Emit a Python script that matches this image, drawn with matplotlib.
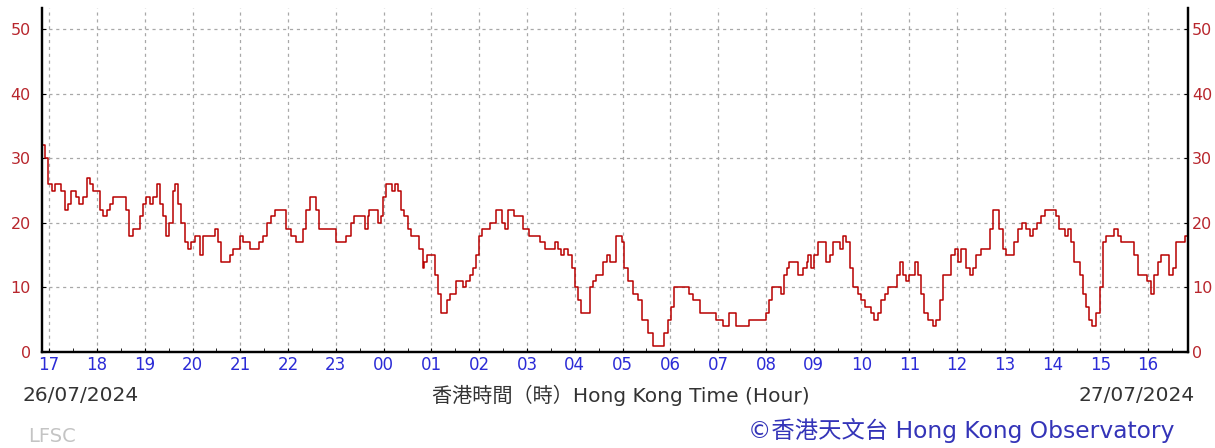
import matplotlib.pyplot as plt
from matplotlib.ticker import MultipleLocator

plt.rcParams['font.family'] = ['DejaVu Sans', 'Noto Sans CJK TC']

# minutes after 17:00 on 26/07/2024, and the reading at that time
minutes = [-9, -5, -1, 3, 7, 11, 15, 20, 24, 28, 34, 38, 43, 47, 51, 55, 59, 64, 68,
           72, 76, 80, 93, 97, 100, 105, 110, 114, 118, 122, 126, 130, 135, 139, 143,
           147, 151, 155, 158, 162, 166, 170, 174, 178, 183, 189, 193, 206, 208, 212,
           216, 222, 227, 231, 239, 243, 252, 264, 268, 273, 279, 283, 293, 298, 304,
           310, 319, 323, 327, 331, 335, 339, 356, 360, 369, 373, 379, 383, 392, 396,
           400, 402, 408, 413, 417, 419, 423, 431, 434, 438, 442, 446, 450, 454, 461,
           465, 469, 471, 474, 480, 484, 488, 492, 499, 503, 511, 520, 524, 528, 532,
           536, 540, 543, 553, 561, 568, 572, 576, 584, 595, 603, 616, 622, 635, 639,
           643, 647, 651, 656, 660, 664, 668, 679, 683, 687, 695, 700, 704, 712, 719,
           722, 727, 733, 739, 745, 752, 758, 772, 777, 781, 785, 804, 808, 817, 837,
           846, 854, 862, 879, 900, 904, 908, 919, 923, 927, 929, 940, 947, 951, 953,
           957, 961, 965, 976, 980, 984, 993, 997, 1001, 1005, 1009, 1016, 1020, 1024,
           1032, 1036, 1041, 1045, 1049, 1053, 1064, 1068, 1072, 1076, 1080, 1087,
           1091, 1095, 1099, 1103, 1110, 1114, 1118, 1122, 1133, 1137, 1141, 1145,
           1151, 1156, 1160, 1164, 1170, 1181, 1185, 1193, 1198, 1202, 1212, 1216,
           1222, 1227, 1231, 1235, 1241, 1245, 1250, 1264, 1268, 1275, 1279, 1283,
           1287, 1294, 1298, 1302, 1306, 1310, 1314, 1319, 1323, 1327, 1337, 1342,
           1346, 1362, 1367, 1379, 1383, 1387, 1392, 1396, 1406, 1411, 1415, 1426, 1430]
values = [32, 30, 26, 25, 26, 26, 25, 22, 23, 25, 24, 23, 24, 27, 26, 25, 25, 22, 21,
          22, 23, 24, 24, 22, 18, 19, 19, 21, 23, 24, 23, 24, 26, 23, 21,
          18, 20, 25, 26, 23, 20, 17, 16, 17, 18, 15, 18, 18, 19, 17,
          14, 14, 15, 16, 18, 17, 16, 17, 18, 20, 21, 22, 22, 19, 18,
          17, 19, 22, 24, 24, 22, 19, 19, 17, 17, 18, 20, 21, 21, 19,
          21, 22, 22, 20, 21, 24, 26, 25, 26, 25, 22, 21, 19, 18, 18,
          16, 13, 14, 15, 15, 12, 9, 6, 8, 9, 11, 10, 11, 12, 13,
          15, 18, 19, 20, 22, 20, 19, 22, 21, 19, 18, 17, 16, 17, 16,
          15, 16, 15, 13, 10, 8, 6, 10, 11, 12, 14, 15, 14, 18, 17,
          13, 11, 9, 8, 5, 3, 1, 3, 5, 7, 10, 9, 8, 6, 5,
          4, 6, 4, 5, 6, 8, 10, 9, 12, 13, 14, 12, 13, 14, 15,
          13, 15, 17, 14, 15, 17, 16, 18, 17, 13, 10, 9, 8, 7,
          6, 5, 6, 8, 9, 10, 12, 14, 12, 11, 12, 14,
          12, 9, 6, 5, 4, 5, 8, 12, 15, 16, 14, 16,
          13, 12, 13, 15, 16, 19, 22, 19, 16, 15, 17, 19,
          20, 19, 18, 19, 20, 21, 22, 21, 19, 18, 19, 17,
          14, 12, 9, 7, 5, 4, 6, 10, 17, 18, 19, 18,
          17, 15, 12, 11, 9, 12, 14, 15, 12, 13, 17, 18, 18]

hour_labels = ['17', '18', '19', '20', '21', '22', '23', '00', '01', '02', '03', '04',
               '05', '06', '07', '08', '09', '10', '11', '12', '13', '14', '15', '16']
y_ticks = [0, 10, 20, 30, 40, 50]

fig = plt.figure(figsize=(12.15, 4.48), dpi=100)
ax = fig.add_axes([42 / 1215, 1 - 352 / 448, (1188 - 42) / 1215, (352 - 8) / 448])

ax.plot(minutes, values, color='#b80000', lw=1.1, drawstyle='steps-post')

ax.set_xlim(-9, 1430)
ax.set_ylim(0, 53.3)

ax.set_xticks([i * 60 for i in range(len(hour_labels))])
ax.set_xticklabels(hour_labels)
ax.xaxis.set_minor_locator(MultipleLocator(30))
ax.set_yticks(y_ticks)

ax.tick_params(axis='x', which='both', direction='in', colors='black', labelcolor='#2b2bd6',
               labelsize=12, pad=3, length=3)
ax.tick_params(axis='y', direction='in', labelcolor='#b8262d', labelsize=11.5, length=3, pad=8)

# right hand scale, same numbers
ax2 = ax.twinx()
ax2.set_ylim(ax.get_ylim())
ax2.set_yticks(y_ticks)
ax2.tick_params(axis='y', direction='in', labelcolor='#b8262d', labelsize=11.5, length=3, pad=3)

for a in (ax, ax2):
    a.spines['top'].set_visible(False)
    for s in ['left', 'right', 'bottom']:
        a.spines[s].set_linewidth(1.6)

for i in range(len(hour_labels)):
    ax.axvline(i * 60, color='#a8a8a8', lw=0.9, ls=(0, (2.5, 3)), zorder=0)
for v in y_ticks[1:]:
    ax.axhline(v, color='#a8a8a8', lw=0.9, ls=(0, (2.5, 3)), zorder=0)

fig.text(23 / 1215, 1 - 395 / 448, '26/07/2024', fontsize=14.5, color='#333333', va='center')
fig.text(621 / 1215, 1 - 395 / 448, '香港時間（時）Hong Kong Time (Hour)', fontsize=14.5,
         color='#333333', va='center', ha='center')
fig.text(1195 / 1215, 1 - 395 / 448, '27/07/2024', fontsize=14.5, color='#333333',
         va='center', ha='right')
fig.text(28 / 1215, 1 - 436 / 448, 'LFSC', fontsize=14, color='#c4c4c4', va='center')
fig.text(1175 / 1215, 1 - 430 / 448, '©香港天文台 Hong Kong Observatory', fontsize=16.8,
         color='#3434b8', va='center', ha='right')

fig.savefig('out.png', dpi=100)
